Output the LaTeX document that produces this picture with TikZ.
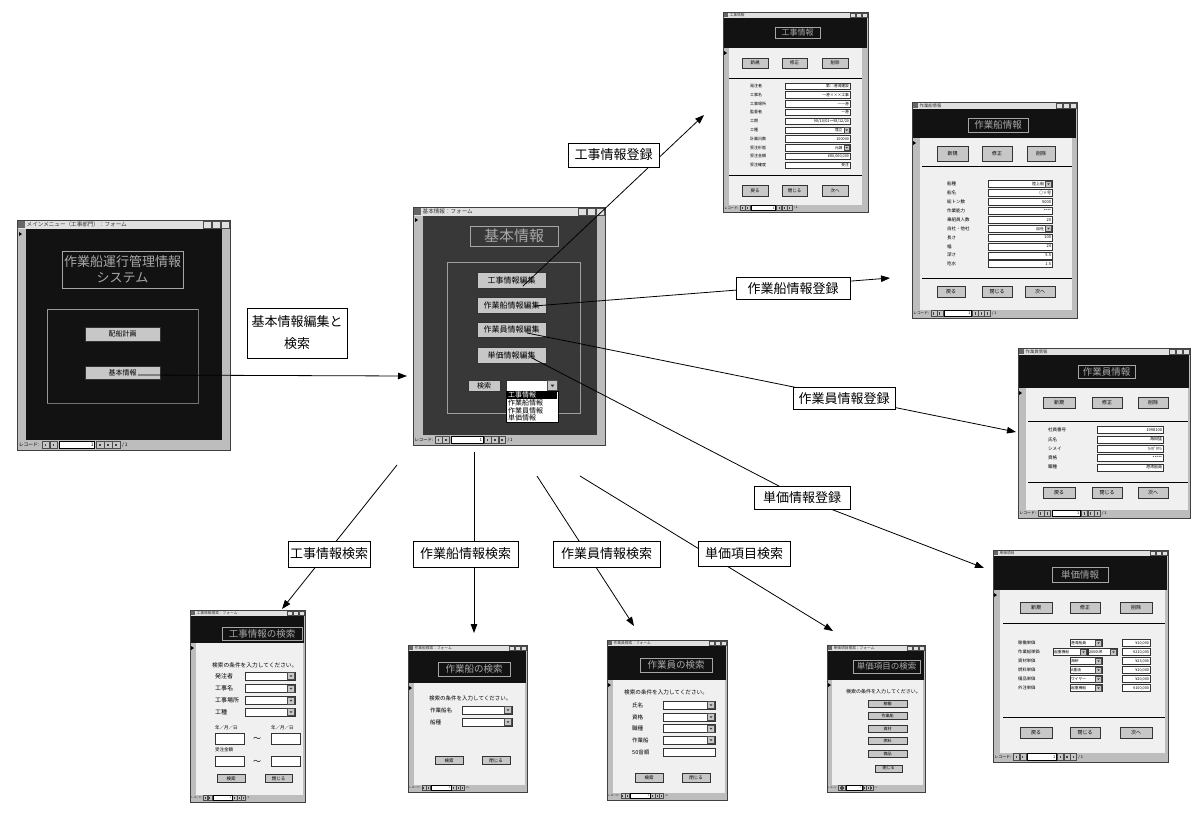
\documentclass[tikz,border=0pt]{standalone}
\usepackage{fontspec}
\setmainfont{Noto Sans CJK JP}
\usetikzlibrary{arrows.meta}
\definecolor{frameg}{gray}{0.74}
\definecolor{titleg}{gray}{0.88}
\definecolor{darkbg}{gray}{0.07}
\definecolor{darkbgb}{gray}{0.22}
\definecolor{lightbg}{gray}{0.94}
\definecolor{btng}{gray}{0.78}
\definecolor{ttl}{gray}{0.66}
\newcommand\fs[1]{\fontsize{#1}{#1}\selectfont}
% window frame: x1 y1 x2 y2 titlebar-bottom title
\newcommand\winframe[6]{%
  \fill[frameg] (#1,#2) rectangle (#3,#4);
  \fill[titleg] (#1,#2) rectangle (#3,#5);
  \pgfmathsetmacro\WFh{#5-#2}
  \pgfmathsetmacro\WFfs{0.62*\WFh}
  \fill[black!60] ({#1+1},{#2+1}) rectangle ({#1+\WFh-1},{#5-1});
  \node[anchor=west,inner sep=0,font=\fs{\WFfs},text=black!80] at ({#1+\WFh+0.5},{(#2+#5)/2}) {#6};
  \foreach \i in {1,2,3}{\draw[fill=titleg,line width=0.25pt,draw=black!70] ({#3-\i*(\WFh+0.3)+0.6},{#2+1.2}) rectangle ({#3-(\i-1)*(\WFh+0.3)-0.6},{#5-1.2});}
  \draw[black!75,line width=0.5pt] (#1,#2) rectangle (#3,#4);
}
% navigation bar: x1 ytop ybot unit
\newcommand\navbar[4]{%
  \pgfmathsetmacro\NBfs{0.6*#4}
  \pgfmathsetmacro\NBy{(#2+#3)/2}
  \pgfmathsetmacro\NBh{(#3-#2)/2-0.6}
  \node[anchor=west,inner sep=0,font=\fs{\NBfs}] at ({#1+0.2*#4},\NBy) {レコード:};
  \foreach \a in {3.1,4.1,9.9,10.9,11.9}{%
    \draw[fill=btng,line width=0.25pt,draw=black!70] ({#1+\a*#4},{\NBy-\NBh}) rectangle ({#1+(\a+0.95)*#4},{\NBy+\NBh});
    \fill[black!75] ({#1+(\a+0.38)*#4},{\NBy-\NBh*0.4}) rectangle ({#1+(\a+0.57)*#4},{\NBy+\NBh*0.4});}
  \draw[fill=white,line width=0.3pt] ({#1+5.3*#4},{\NBy-\NBh}) rectangle ({#1+9.7*#4},{\NBy+\NBh});
  \node[anchor=east,inner sep=0,font=\fs{\NBfs}] at ({#1+9.6*#4},\NBy) {1};
  \node[anchor=west,inner sep=0,font=\fs{\NBfs}] at ({#1+13.1*#4},\NBy) {/ 1};
}
\newcommand\bt[7]{\node[btn,minimum width=#4pt,minimum height=#5pt,font=\fs{#6}] (#1) at (#2,#3) {#7};}
% field: x1 x2 ymid h value fs
\newcommand\fld[6]{%
  \draw[field] (#1,{#3-#4/2}) rectangle (#2,{#3+#4/2});
  \node[anchor=east,inner sep=0,font=\fs{#6}] at ({#2-0.8},#3) {#5};}
\newcommand\cmbbox[4]{%
  \draw[field] (#1,{#3-#4/2}) rectangle (#2,{#3+#4/2});
  \draw[fill=btng,line width=0.25pt,draw=black!70] ({#2-#4+0.5},{#3-#4/2+0.6}) rectangle ({#2-0.6},{#3+#4/2-0.6});
  \fill[black!80] ({#2-#4*0.68},{#3-#4*0.09}) -- ({#2-#4*0.32},{#3-#4*0.09}) -- ({#2-#4*0.5},{#3+#4*0.14}) -- cycle;}
\newcommand\cmb[6]{\cmbbox{#1}{#2}{#3}{#4}%
  \node[anchor=east,inner sep=0,font=\fs{#6}] at ({#2-#4-0.8},#3) {#5};}
\newcommand\cmbL[6]{\cmbbox{#1}{#2}{#3}{#4}%
  \node[anchor=west,inner sep=0,font=\fs{#6}] at ({#1+0.8},#3) {#5};}
\newcommand\sel[2]{\fill (#1,{#2-2}) -- ({#1+3},#2) -- (#1,{#2+2}) -- cycle;}
\begin{document}
\begin{tikzpicture}[x=1pt,y=-1pt,
  btn/.style={draw=black!80,fill=btng,inner sep=0,line width=0.4pt},
  field/.style={draw=black!80,fill=white,line width=0.35pt},
  ttlbox/.style={draw=black!35,line width=0.6pt,text=ttl,inner sep=0},
  lab/.style={draw=black,fill=white,line width=0.7pt,inner sep=0,font=\fs{13}},
  arr/.style={line width=0.8pt,-{Triangle[length=9pt,width=6.5pt]}},
  txt/.style={anchor=west,inner sep=0}]
\useasboundingbox (0,0) rectangle (1200,814);
\fill[white] (0,0) rectangle (1200,814);

%% ---------- main menu ----------
\winframe{17}{220}{230}{450}{229}{メインメニュー（工事部門）：フォーム}
\fill[darkbg] (26,229) rectangle (222,440);
\sel{19}{234}
\node[ttlbox,minimum width=121pt,minimum height=37pt,font=\fs{13},align=center] (mtitle) at (122.5,269.5) {作業船運行管理情報\\[3pt]システム};
\draw[gray!80,line width=0.8pt] (47,403) -- (47,309) -- (198,309);
\draw[black!55,line width=0.5pt] (198,309) -- (198,403) -- (47,403);
\bt{mb1}{122.5}{334}{75}{14}{7}{配船計画}
\bt{mb2}{122.5}{372.5}{75}{13}{7}{基本情報}
\navbar{17}{441}{449}{8}

%% ---------- basic info ----------
\winframe{413}{207}{605}{445}{216}{基本情報：フォーム}
\fill[darkbgb] (423,216) rectangle (597,435);
\sel{415}{220}
\node[ttlbox,minimum width=88pt,minimum height=20pt,font=\fs{15}] (btitle) at (514,236) {基本情報};
\draw[gray!75,line width=0.8pt] (447,262) rectangle (580,413);
\bt{b1}{511.5}{280}{69}{16}{8}{工事情報編集}
\bt{b2}{511.5}{305}{69}{16}{8}{作業船情報編集}
\bt{b3}{511.5}{329.5}{69}{15}{8}{作業員情報編集}
\bt{b4}{511.5}{355}{69}{16}{8}{単価情報編集}
\bt{bs}{484}{385.5}{32}{11}{7}{検索}
\cmbbox{506}{558}{385.5}{11}
\draw[fill=white,line width=0.4pt] (506,391) rectangle (558,422);
\fill[black] (507,391.5) rectangle (557,399);
\node[txt,font=\fs{7},text=white] (d1) at (508,395.2) {工事情報};
\node[txt,font=\fs{7}] (d2) at (508,403) {作業船情報};
\node[txt,font=\fs{7}] (d3) at (508,410.5) {作業員情報};
\node[txt,font=\fs{7}] (d4) at (508,418) {単価情報};
\navbar{413}{436}{444}{7.2}

%% ---------- 工事情報 ----------
\winframe{723}{12}{868}{212}{18}{工事情報}
\fill[darkbg] (724,18) rectangle (867,48);
\fill[lightbg] (729,48) rectangle (862,205);
\sel{724}{53}
\node[ttlbox,minimum width=45pt,minimum height=11pt,font=\fs{8}] (t1) at (797.5,32.5) {工事情報};
\bt{k1}{755}{63}{26}{10}{4.5}{新規}
\bt{k2}{794.5}{63}{25}{10}{4.5}{修正}
\bt{k3}{835}{63}{26}{10}{4.5}{削除}
\draw[black,line width=0.8pt] (729,78) -- (862,78);
\foreach \lb/\vl/\cb [count=\i] in {発注者/第○港湾建設/0,工事名/一港×××工事/0,工事場所/一一港/0,監督者/一港/0,工期/{98/10/01〜98/12/20}/0,工種/埋立/1,計画日数/100000/0,受注形態/元請/1,受注金額/{¥80,000,000}/0,受注確度/受注/0}{%
  \pgfmathsetmacro\yy{86+(\i-1)*8.8}
  \node[txt,font=\fs{4}] at (750,\yy) {\lb};
  \ifnum\cb=1 \cmb{785}{850}{\yy}{6.5}{\vl}{3.8}\else \fld{785}{850}{\yy}{6.5}{\vl}{3.8}\fi}
\draw[black,line width=0.8pt] (729,175) -- (862,175);
\bt{k4}{755}{191}{26}{11}{4.5}{戻る}
\bt{k5}{794.5}{191}{25}{11}{4.5}{閉じる}
\bt{k6}{835}{191}{26}{11}{4.5}{次へ}
\navbar{723}{205}{211}{5.4}

%% ---------- 作業船情報 ----------
\winframe{912}{102}{1077}{318}{109}{作業船情報}
\fill[darkbg] (913,109) rectangle (1076,138);
\fill[lightbg] (920,138) rectangle (1072,310);
\sel{913}{143}
\node[ttlbox,minimum width=60pt,minimum height=14pt,font=\fs{9.5}] (t2) at (998,125) {作業船情報};
\bt{s1}{952.5}{153.5}{31}{15}{5}{新規}
\bt{s2}{997}{153.5}{30}{15}{5}{修正}
\bt{s3}{1041}{153.5}{28}{15}{5}{削除}
\draw[black,line width=0.8pt] (922,166) -- (1072,166);
\foreach \lb/\vl/\cb [count=\i] in {船種/陸上船/1,船名/○×号/0,総トン数/5000/0,作業能力/****/0,乗組員人数/20/0,自社・他社/自社/1,長さ/100/0,幅/24/0,深さ/5.5/0,吃水/1.5/0}{%
  \pgfmathsetmacro\yy{184+(\i-1)*8.9}
  \node[txt,font=\fs{4.5}] at (947,\yy) {\lb};
  \ifnum\cb=1 \cmb{988}{1052}{\yy}{7}{\vl}{4}\else \fld{988}{1052}{\yy}{7}{\vl}{4}\fi}
\draw[black,line width=0.8pt] (922,278) -- (1072,278);
\bt{s4}{951}{292}{28}{11}{5}{戻る}
\bt{s5}{997}{292}{30}{11}{5}{閉じる}
\bt{s6}{1040}{292}{30}{11}{5}{次へ}
\navbar{912}{310}{317}{6.1}

%% ---------- 作業員情報 ----------
\winframe{1018}{348}{1190}{518}{355}{作業員情報}
\fill[darkbg] (1019,355) rectangle (1189,388);
\fill[lightbg] (1026,388) rectangle (1188,510);
\sel{1019}{393}
\node[ttlbox,minimum width=57pt,minimum height=13pt,font=\fs{9.5}] (t3) at (1106.5,371.5) {作業員情報};
\bt{w1}{1059}{402.5}{32}{11}{5}{新規}
\bt{w2}{1107}{402.5}{30}{11}{5}{修正}
\bt{w3}{1153}{402.5}{30}{11}{5}{削除}
\draw[black,line width=0.8pt] (1028,421) -- (1188,421);
\foreach \lb/\vl [count=\i] in {社員番号/1998100,氏名/海田猛,シメイ/ｶｲﾀﾞﾀｹｼ,資格/*****,職種/港湾船員}{%
  \pgfmathsetmacro\yy{430+(\i-1)*9.3}
  \node[txt,font=\fs{4.5}] at (1048,\yy) {\lb};
  \fld{1097}{1163}{\yy}{7}{\vl}{4}}
\draw[black,line width=0.8pt] (1028,482) -- (1188,482);
\bt{w4}{1059}{492.5}{32}{11}{5}{戻る}
\bt{w5}{1107}{492.5}{30}{11}{5}{閉じる}
\node[btn,line width=1pt,minimum width=30pt,minimum height=11pt,font=\fs{5}] (w6) at (1153,492.5) {次へ};
\navbar{1018}{510}{517}{6.4}

%% ---------- 単価情報 ----------
\winframe{993}{550}{1168}{762}{556}{単価項目}
\fill[darkbg] (994,556) rectangle (1167,590);
\fill[lightbg] (1000,590) rectangle (1165,753);
\sel{994}{595}
\node[ttlbox,minimum width=56pt,minimum height=15pt,font=\fs{9.5}] (t4) at (1080,574.5) {単価情報};
\bt{u1}{1036}{607.5}{32}{11}{5}{新規}
\bt{u2}{1085}{607.5}{30}{11}{5}{修正}
\bt{u3}{1136}{607.5}{32}{11}{5}{削除}
\draw[black,line width=0.8pt] (1003,623) -- (1165,623);
\foreach \lb/\cv/\vl [count=\i] in {稼働単価/港湾船員/{¥10,000},作業船単価//{¥210,000},資材単価/海砂/{¥23,000},燃料単価/A重油/{¥10,000},備品単価/ワイヤー/{¥20,000},外注単価/起重機船/{¥100,000}}{%
  \pgfmathsetmacro\yy{643+(\i-1)*9}
  \node[txt,font=\fs{4.3}] at (1018,\yy) {\lb};
  \ifnum\i=2 \cmbL{1053}{1087}{\yy}{7}{起重機船}{3.8}\cmbL{1088}{1117}{\yy}{7}{2000t吊}{3.8}\else \cmbL{1070}{1102}{\yy}{7}{\cv}{3.8}\fi
  \fld{1122}{1150}{\yy}{7}{\vl}{3.8}}
\draw[black,line width=0.8pt] (1003,717) -- (1165,717);
\bt{u4}{1036}{732.5}{32}{11}{5}{戻る}
\bt{u5}{1085}{732.5}{30}{11}{5}{閉じる}
\node[btn,line width=1pt,minimum width=32pt,minimum height=11pt,font=\fs{5}] (u6) at (1136,732.5) {次へ};
\navbar{993}{753}{761}{6.5}

%% ---------- 工事情報の検索 ----------
\winframe{190}{610}{305}{802}{616}{工事情報検索：フォーム}
\fill[darkbg] (191,616) rectangle (304,643);
\fill[lightbg] (196,643) rectangle (303,795);
\sel{191}{648}
\node[ttlbox,minimum width=80pt,minimum height=13pt,font=\fs{9.5}] (t5) at (262,633.5) {工事情報の検索};
\node[txt,font=\fs{5.7}] (q5) at (212,665) {検索の条件を入力してください。};
\foreach \lb/\yy in {発注者/676,工事名/688.5,工事場所/700.5,工種/712}{%
  \node[txt,font=\fs{6}] at (215,\yy) {\lb};
  \cmb{245}{295}{\yy}{8}{}{4}}
\node[txt,font=\fs{4.5}] at (215,728) {年／月／日};
\node[txt,font=\fs{4.5}] at (271,728) {年／月／日};
\draw[field] (215,733) rectangle (244,744);
\draw[field] (271,733) rectangle (300,744);
\node[font=\fs{8},inner sep=0] (tl1) at (257,739.5) {〜};
\node[txt,font=\fs{4.5}] at (215,749.5) {受注金額};
\draw[field] (215,756) rectangle (244,766);
\draw[field] (271,756) rectangle (300,766);
\node[font=\fs{8},inner sep=0] (tl2) at (257,762) {〜};
\bt{f1}{231}{778.5}{28}{8}{4.5}{検索}
\bt{f2}{278.5}{778.5}{27}{8}{4.5}{閉じる}
\navbar{190}{795}{801}{4.3}

%% ---------- 作業船の検索 ----------
\winframe{408}{645}{527}{792}{651}{作業船検索：フォーム}
\fill[darkbg] (409,651) rectangle (526,683);
\fill[lightbg] (414,683) rectangle (525,785);
\sel{409}{688}
\node[ttlbox,minimum width=72pt,minimum height=14pt,font=\fs{9.5}] (t6) at (474,669) {作業船の検索};
\node[txt,font=\fs{5.5}] (q6) at (429,698) {検索の条件を入力してください。};
\foreach \lb/\yy in {作業船名/710,船種/722}{%
  \node[txt,font=\fs{5.5}] at (430,\yy) {\lb};
  \cmb{462}{512}{\yy}{8}{}{4}}
\bt{g1}{449}{760.5}{28}{8}{4.5}{検索}
\bt{g2}{496}{760.5}{28}{8}{4.5}{閉じる}
\navbar{408}{785}{791}{4.4}

%% ---------- 作業員の検索 ----------
\winframe{607}{640}{727}{800}{646}{作業員検索：フォーム}
\fill[darkbg] (608,646) rectangle (726,680);
\fill[lightbg] (613,680) rectangle (725,793);
\sel{608}{685}
\node[ttlbox,minimum width=72pt,minimum height=14pt,font=\fs{9.5}] (t7) at (676,665) {作業員の検索};
\node[txt,font=\fs{5.6}] (q7) at (624,692) {検索の条件を入力してください。};
\foreach \lb/\yy in {氏名/705,資格/717,職種/728.5,作業船/740}{%
  \node[txt,font=\fs{5.5}] at (632,\yy) {\lb};
  \cmb{663}{715}{\yy}{8}{}{4}}
\node[txt,font=\fs{5.5}] at (632,752.5) {50音順};
\fld{663}{715}{752.5}{8}{}{4}
\bt{h1}{649}{777.5}{28}{9}{4.5}{検索}
\bt{h2}{696}{777.5}{28}{9}{4.5}{閉じる}
\navbar{607}{793}{799}{4.4}

%% ---------- 単価項目の検索 ----------
\winframe{827}{645}{925}{792}{651}{単価項目検索：フォーム}
\fill[darkbg] (828,651) rectangle (924,680);
\fill[lightbg] (832,680) rectangle (923,785);
\sel{828}{685}
\node[ttlbox,minimum width=67pt,minimum height=13pt,font=\fs{8.5}] (t8) at (886.5,666.5) {単価項目の検索};
\node[txt,font=\fs{5}] (q8) at (846,692) {検索の条件を入力してください。};
\bt{p1}{887.5}{703.5}{39}{7}{4}{稼働}
\bt{p2}{887.5}{716}{39}{7}{4}{作業船}
\bt{p3}{887.5}{728.5}{39}{7}{4}{資材}
\bt{p4}{887.5}{741}{39}{7}{4}{燃料}
\bt{p5}{887.5}{753.5}{39}{7}{4}{備品}
\bt{p6}{888.5}{768.5}{27}{7}{4}{閉じる}
\navbar{827}{785}{791}{3.6}

%% ---------- connectors ----------
\coordinate (s0) at (138,375);  \coordinate (e0) at (407,376);
\coordinate (s1) at (523,286);  \coordinate (e1) at (704,115);
\coordinate (s2) at (534,306);  \coordinate (e2) at (890,278);
\coordinate (s3) at (527,333);  \coordinate (e3) at (1016,432);
\coordinate (s4) at (532,358);  \coordinate (L4) at (802,498); \coordinate (e4) at (984,568);
\coordinate (s5) at (397,465);  \coordinate (e5) at (282,609);
\coordinate (s6) at (474,452);  \coordinate (e6) at (474,633);
\coordinate (s7) at (537,476);  \coordinate (e7) at (634,626);
\coordinate (s8) at (580,476);  \coordinate (e8) at (833,631);
\draw[arr] (s0) -- (e0);
\draw[arr] (s1) -- (e1);
\draw[arr] (s2) -- (e2);
\draw[arr] (s3) -- (e3);
\draw[arr] (s4) -- (L4) -- (e4);
\draw[arr] (s5) -- (e5);
\draw[arr] (s6) -- (e6);
\draw[arr] (s7) -- (e7);
\draw[arr] (s8) -- (e8);

%% ---------- labels ----------
\node[lab,minimum width=100pt,minimum height=50pt,align=center] (l0) at (297,333) {基本情報編集と\\[9pt]検索};
\node[lab,minimum width=91pt,minimum height=24pt] (l1) at (613.5,155) {工事情報登録};
\node[lab,minimum width=114pt,minimum height=22pt] (l2) at (793,288.5) {作業船情報登録};
\node[lab,minimum width=102pt,minimum height=22pt] (l3) at (844,398.5) {作業員情報登録};
\node[lab,minimum width=96pt,minimum height=23pt] (l4) at (L4) {単価情報登録};
\node[lab,minimum width=82pt,minimum height=26pt] (l5) at (329,554) {工事情報検索};
\node[lab,minimum width=105pt,minimum height=26pt] (l6) at (465.5,554) {作業船情報検索};
\node[lab,minimum width=107pt,minimum height=26pt] (l7) at (606.5,554) {作業員情報検索};
\node[lab,minimum width=92pt,minimum height=25pt] (l8) at (744,553.5) {単価項目検索};
\end{tikzpicture}
\end{document}
